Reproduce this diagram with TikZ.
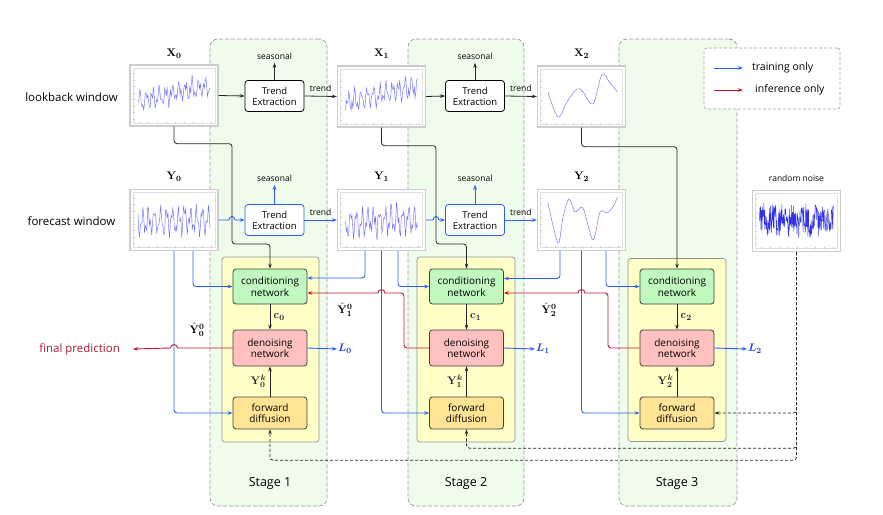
\documentclass[tikz,border=0pt]{standalone}
\usepackage[no-math]{fontspec}
\setmainfont{Open Sans}
\usepackage{amsmath}
\usetikzlibrary{arrows.meta,calc}
\definecolor{stagefill}{RGB}{239,251,235}
\definecolor{yfill}{RGB}{255,255,200}
\definecolor{condfill}{RGB}{192,248,192}
\definecolor{denofill}{RGB}{255,192,192}
\definecolor{fwdfill}{RGB}{255,228,150}
\definecolor{blueline}{RGB}{40,95,250}
\definecolor{redline}{RGB}{195,20,50}
\definecolor{curveblue}{RGB}{110,110,255}
\definecolor{lblue}{RGB}{30,60,235}
\definecolor{fpred}{RGB}{170,25,45}
\newcommand{\fBox}{\fontsize{10}{11.5}\selectfont}
\newcommand{\fTE}{\fontsize{9.5}{11}\selectfont}
\newcommand{\fSide}{\fontsize{11.5}{13}\selectfont}
\newcommand{\fSmall}{\fontsize{8.5}{10}\selectfont}
\newcommand{\fStage}{\fontsize{12.5}{14}\selectfont}
\newcommand{\fLeg}{\fontsize{10.5}{12}\selectfont}
\newcommand{\fMath}{\fontsize{11}{13}\selectfont}
\newcommand{\thumbdeco}{%
  \draw[gray!25, line width=0.4pt] (-41,-27.5) rectangle (41,27.5);
  \foreach \t in {-35,-26,...,37} \draw[gray!45,line width=0.3pt] (\t,27.5) -- (\t,26);
  \foreach \t in {-22,-15.5,...,24} \draw[gray!45,line width=0.3pt] (-41,\t) -- (-39.5,\t);
}
\tikzset{
  stagebox/.style={draw=gray!80, dash pattern=on 4pt off 2pt, fill=stagefill, rounded corners=8pt, line width=0.7pt, inner sep=0pt},
  ybox/.style={draw=gray!85, fill=yfill, rounded corners=3pt, line width=0.7pt, inner sep=0pt},
  legbox/.style={draw=gray!70, dash pattern=on 3pt off 2pt, fill=white, rounded corners=3pt, line width=0.7pt, inner sep=0pt},
  netbox/.style={draw=black!75, rounded corners=3pt, line width=0.8pt, minimum width=74pt, align=center, font=\fBox, inner sep=0pt},
  cond/.style={netbox, fill=condfill, minimum height=35pt},
  deno/.style={netbox, fill=denofill, minimum height=36pt},
  fwd/.style={netbox, fill=fwdfill, minimum height=32pt},
  te/.style={draw=black, fill=white, rounded corners=3pt, line width=0.8pt, minimum width=59pt, minimum height=31pt, align=center, font=\fTE, inner sep=0pt},
  teb/.style={te, draw=blueline},
  thumb/.style={draw=gray!40, line width=1.3pt, fill=white, minimum width=88pt, minimum height=61pt, inner sep=0pt},
  curve/.style={curveblue, line width=0.45pt},
  tip/.style={-{Stealth[length=5pt,width=3.6pt]}},
  blk/.style={black!85, line width=0.8pt, tip},
  bl/.style={blueline, line width=0.9pt, tip},
  rd/.style={redline, line width=0.9pt, tip},
  dsh/.style={black!85, dash pattern=on 3pt off 2pt, line width=0.8pt, tip},
}
\begin{document}
\begin{tikzpicture}[x=1pt,y=-1pt]
\useasboundingbox (0,0) rectangle (883,514);

% stage boxes
\node[stagebox, minimum width=117pt, minimum height=467pt] (SG1) at (268.5,272.5) {};
\node[stagebox, minimum width=116pt, minimum height=467pt] (SG2) at (466,272.5) {};
\node[stagebox, minimum width=118pt, minimum height=467pt] (SG3) at (678,272.5) {};
\node[ybox, minimum width=97pt, minimum height=185pt] (YB1) at (270.5,349.5) {};
\node[ybox, minimum width=98pt, minimum height=185pt] (YB2) at (466,349.5) {};
\node[ybox, minimum width=98pt, minimum height=183pt] (YB3) at (677,350) {};

% legend
\node[legbox, minimum width=136pt, minimum height=61pt] (LEG) at (772,78.5) {};
\coordinate (la1) at (714,68); \coordinate (la2) at (743,68);
\coordinate (lb1) at (714,90); \coordinate (lb2) at (743,90);
\draw[bl] (la1) -- (la2);
\draw[rd] (lb1) -- (lb2);
\node[anchor=west, font=\fLeg, inner sep=0pt] (LT1) at (752,68) {training only};
\node[anchor=west, font=\fLeg, inner sep=0pt] (LT2) at (755,90) {inference only};

% side labels
\node[font=\fSide] (LW) at (71.5,97) {lookback window};
\node[font=\fSide] (FW) at (71.5,221) {forecast window};

% thumbnails
\node[thumb] (X0) at (174,95.5) {};
\node[thumb] (Y0) at (174,220) {};
\node[thumb] (X1) at (381.5,96.5) {};
\node[thumb] (Y1) at (381.5,220) {};
\node[thumb] (X2) at (581.5,96.5) {};
\node[thumb] (Y2) at (581.5,220) {};
\node[thumb] (N) at (796.5,221) {};

\begin{scope}[shift={(X0.center)}]
  \thumbdeco
  \pgfmathsetseed{11}
  \draw[curve] plot[domain=-36:36, samples=90] (\x, {6 - 0.22*(\x+36) + 7*sin(\x*55) + 5*sin(\x*131+40) + 3*rand});
\end{scope}
\begin{scope}[shift={(Y0.center)}]
  \thumbdeco
  \pgfmathsetseed{23}
  \draw[curve] plot[domain=-36:36, samples=90] (\x, {1 - 0.05*\x + 10*sin(\x*60) + 7*sin(\x*143+20) + 4*rand});
\end{scope}
\begin{scope}[shift={(X1.center)}]
  \thumbdeco
  \pgfmathsetseed{37}
  \draw[curve] plot[domain=-36:36, samples=90] (\x, {6 - 0.22*(\x+36) + 7*sin(\x*57) + 5*sin(\x*127+70) + 3*rand});
\end{scope}
\begin{scope}[shift={(Y1.center)}]
  \thumbdeco
  \pgfmathsetseed{41}
  \draw[curve] plot[domain=-36:36, samples=90] (\x, {1 - 0.05*\x + 10*sin(\x*62+30) + 7*sin(\x*139) + 4*rand});
\end{scope}
\begin{scope}[shift={(X2.center)}]
  \thumbdeco
  \draw[curve] plot[smooth, tension=0.6] coordinates {(-33.5,-4.5) (-23.5,20.5) (-14.5,5.5) (-4.5,-7.5) (1.5,-4.5) (11.5,7.5) (20.5,-22) (28.5,-13.5) (36,-4.5)};
\end{scope}
\begin{scope}[shift={(Y2.center)}]
  \thumbdeco
  \draw[curve] plot[smooth, tension=0.5] coordinates {(-33.5,-17) (-23.5,23) (-18.5,-3) (-12.5,-21) (-6.5,-8) (1.5,-12) (11.5,20) (18.5,-8) (25.5,-7) (31.5,-13) (36,-23)};
\end{scope}
\begin{scope}[shift={(N.center)}]
  \thumbdeco
  \pgfmathsetseed{5}
  \draw[blue!90!black, line width=0.45pt, opacity=0.8] plot[domain=-37:37, samples=220] (\x, {-1 + 3*sin(\x*35) + 15*rand});
\end{scope}

% thumbnail labels
\node[font=\fMath] (LX0) at (174,54) {$\mathbf{X}_{\mathbf{0}}$};
\node[font=\fMath] (LX1) at (381.5,54) {$\mathbf{X}_{\mathbf{1}}$};
\node[font=\fMath] (LX2) at (581.5,54) {$\mathbf{X}_{\mathbf{2}}$};
\node[font=\fMath] (LY0) at (174,177) {$\mathbf{Y}_{\mathbf{0}}$};
\node[font=\fMath] (LY1) at (381.5,177) {$\mathbf{Y}_{\mathbf{1}}$};
\node[font=\fMath] (LY2) at (581.5,177) {$\mathbf{Y}_{\mathbf{2}}$};
\node[font=\fSmall] (LN) at (796.5,178) {random noise};

% trend extraction
\node[te] (T0) at (274.5,96) {Trend\\Extraction};
\node[te] (T1) at (475,96) {Trend\\Extraction};
\node[teb] (Tb0) at (274.5,220) {Trend\\Extraction};
\node[teb] (Tb1) at (475,220) {Trend\\Extraction};
\node[font=\fSmall] (SS0) at (274.5,56) {seasonal};
\node[font=\fSmall] (SS1) at (475,56) {seasonal};
\node[font=\fSmall] (SB0) at (274.5,178) {seasonal};
\node[font=\fSmall] (SB1) at (475,178) {seasonal};

% networks
\node[cond] (C0) at (270,286.5) {conditioning\\network};
\node[deno] (D0) at (270,348) {denoising\\network};
\node[fwd] (F0) at (270,413) {forward\\diffusion};
\node[cond] (C1) at (466.5,286.5) {conditioning\\network};
\node[deno] (D1) at (466.5,348) {denoising\\network};
\node[fwd] (F1) at (466.5,413) {forward\\diffusion};
\node[cond] (C2) at (677,286.5) {conditioning\\network};
\node[deno] (D2) at (677,348) {denoising\\network};
\node[fwd] (F2) at (677,413) {forward\\diffusion};

% losses and outputs
\node[anchor=west, inner sep=1pt, font=\fMath, text=lblue] (L0) at (337,349) {$\boldsymbol{L}_{\mathbf{0}}$};
\node[anchor=west, inner sep=1pt, font=\fMath, text=lblue] (L1) at (535,349) {$\boldsymbol{L}_{\mathbf{1}}$};
\node[anchor=west, inner sep=1pt, font=\fMath, text=lblue] (L2) at (747,349) {$\boldsymbol{L}_{\mathbf{2}}$};
\node[anchor=east, inner sep=0pt, font=\fSide, text=fpred] (FP) at (120,349) {final prediction};
\node[font=\fMath] (H0) at (197,330) {$\hat{\mathbf{Y}}^{\mathbf{0}}_{\mathbf{0}}$};
\node[font=\fMath] (H1) at (345,310) {$\hat{\mathbf{Y}}^{\mathbf{0}}_{\mathbf{1}}$};
\node[font=\fMath] (H2) at (549,310) {$\hat{\mathbf{Y}}^{\mathbf{0}}_{\mathbf{2}}$};

% stage labels
\node[font=\fStage] (ST1) at (270,483) {Stage 1};
\node[font=\fStage] (ST2) at (466,483) {Stage 2};
\node[font=\fStage] (ST3) at (677,483) {Stage 3};

% top row connectors
\draw[blk] (X0.east) -- (T0.west);
\draw[blk] (T0.east) -- node[above, font=\fSmall, text=black, yshift=1pt] {trend} (X1.west);
\draw[blk] (T0.north) -- (SS0);
\draw[blk] (X1.east) -- (T1.west);
\draw[blk] (T1.east) -- node[above, font=\fSmall, text=black, yshift=1pt] {trend} (X2.west);
\draw[blk] (T1.north) -- (SS1);

% bottom row connectors
\draw[bl] (Y0.east) -- (229,220) .. controls (229,215.5) and (235,215.5) .. (235,220) -- (Tb0.west);
\draw[bl] (Tb0.east) -- node[above, font=\fSmall, text=black, yshift=1pt] {trend} (Y1.west);
\draw[bl] (Tb0.north) -- (SB0);
\draw[bl] (Y1.east) -- (433,220) .. controls (433,215.5) and (439,215.5) .. (439,220) -- (Tb1.west);
\draw[bl] (Tb1.east) -- node[above, font=\fSmall, text=black, yshift=1pt] {trend} (Y2.west);
\draw[bl] (Tb1.north) -- (SB1);

% lookback to conditioning
\draw[blk, rounded corners=3pt] (X0.south) -- ++(0,17) -| (232,244) -| (C0.north);
\draw[blk, rounded corners=3pt] (X1.south) -- ++(0,18) -| (436,244) -| (C1.north);
\draw[blk, rounded corners=3pt] (X2.south) -- ++(0,19) -| (C2.north);

% forecast windows (training)
\draw[bl, rounded corners=3pt] ($(Y0.south)+(19,0)$) |- (C0.west);
\draw[bl, rounded corners=3pt] (Y0.south) |- (F0.west);
\draw[bl, rounded corners=3pt] ($(Y1.south)+(-16.5,0)$) |- ($(C0.east)+(0,-8.5)$);
\draw[bl, rounded corners=3pt] (Y1.south) |- (F1.west);
\draw[bl, rounded corners=3pt] ($(Y1.south)+(16.5,0)$) |- (C1.west);
\draw[bl, rounded corners=3pt] ($(Y2.south)+(-21.5,0)$) |- ($(C1.east)+(0,-8)$);
\draw[bl, rounded corners=3pt] (Y2.south) |- (F2.west);
\draw[bl, rounded corners=3pt] ($(Y2.south)+(24.5,0)$) |- (C2.west);

% inference
\draw[rd] (D0.west) -- (177.5,348) .. controls (177.5,343.5) and (170.5,343.5) .. (170.5,348) -- ($(FP.east)+(13,0)$);
\draw[rd, rounded corners=3pt] (D1.west) -- (404,348) -- (404,293) [sharp corners] -- (385,293) .. controls (385,288.5) and (378,288.5) .. (378,293) -- ($(C0.east)+(0,6.5)$);
\draw[rd, rounded corners=3pt] (D2.west) -- (608,348) -- (608,293) [sharp corners] -- (585,293) .. controls (585,288.5) and (578,288.5) .. (578,293) -- ($(C1.east)+(0,6.5)$);

% noise
\draw[dsh, rounded corners=3pt] (N.south) |- (F2.east);
\draw[dsh, rounded corners=3pt] (N.south) -- ($(N.south)+(0,196)$) -| (F1.south);
\draw[dsh, rounded corners=3pt] (N.south) -- ($(N.south)+(0,208)$) -| (F0.south);

% inner stage arrows
\draw[blk] (C0.south) -- node[right, font=\fMath] {$\mathbf{c}_{\mathbf{0}}$} (D0.north);
\draw[blk] (F0.north) -- node[left, font=\fMath] {$\mathbf{Y}^{\boldsymbol{k}}_{\mathbf{0}}$} (D0.south);
\draw[bl] (D0.east) -- (L0.west);
\draw[blk] (C1.south) -- node[right, font=\fMath] {$\mathbf{c}_{\mathbf{1}}$} (D1.north);
\draw[blk] (F1.north) -- node[left, font=\fMath] {$\mathbf{Y}^{\boldsymbol{k}}_{\mathbf{1}}$} (D1.south);
\draw[bl] (D1.east) -- (L1.west);
\draw[blk] (C2.south) -- node[right, font=\fMath] {$\mathbf{c}_{\mathbf{2}}$} (D2.north);
\draw[blk] (F2.north) -- node[left, font=\fMath] {$\mathbf{Y}^{\boldsymbol{k}}_{\mathbf{2}}$} (D2.south);
\draw[bl] (D2.east) -- (L2.west);
\end{tikzpicture}
\end{document}
